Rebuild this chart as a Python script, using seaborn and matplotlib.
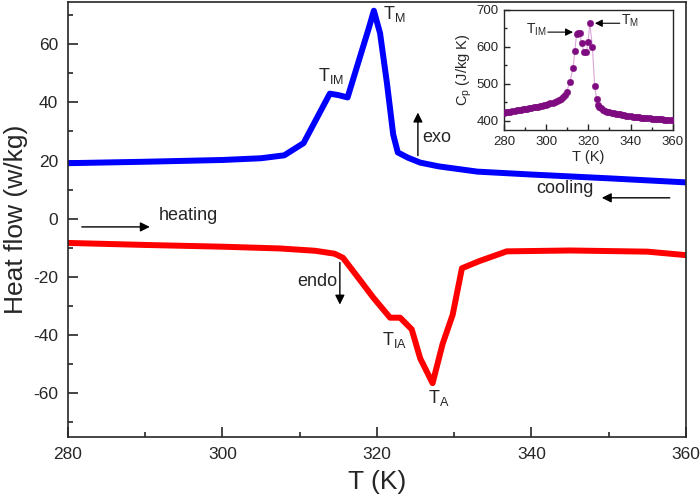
import matplotlib
matplotlib.use("Agg")
import matplotlib.pyplot as plt
from matplotlib.ticker import MultipleLocator
import seaborn as sns
import pandas as pd

# ---------------- data ----------------
T_cool = [280, 290, 300, 305, 308, 310.5, 312, 313.9, 315, 316.2, 317.5, 319.0,
          319.6, 320.4, 321.3, 322.1, 322.7, 324, 325.6, 328, 333, 340, 350, 360]
HF_cool = [19.1, 19.6, 20.2, 20.8, 21.8, 26, 33.5, 43, 42.5, 41.7, 53, 66,
           71.5, 63.8, 46.5, 29, 22.8, 21, 19.3, 18, 16.2, 15.2, 13.9, 12.5]

T_heat = [280, 290, 300, 307.4, 312, 314.5, 315.6, 317.5, 319.5, 321.7, 323, 324.5,
          325.6, 327.2, 328.5, 329.8, 331, 333.3, 336.8, 345, 355, 360]
HF_heat = [-8.3, -9.0, -9.6, -10.2, -11, -12, -13.4, -20, -27, -34, -34, -38,
           -48, -56.5, -43, -33, -17, -14.5, -11.2, -10.9, -11.3, -12.5]

T_cp = [280, 281, 282, 283, 284, 285, 286, 287, 288, 289, 290, 291, 292, 293, 294,
        295, 296, 297, 298, 299, 300, 301, 302, 303, 304, 305, 306, 307, 308, 309,
        309.7, 311.2, 312.8, 313.6, 314.4, 315.2, 316.0, 316.8, 317.9, 319.0, 319.9,
        320.7, 321.9, 323.0, 323.9, 324.6, 325, 326, 327, 328, 329, 330, 331, 332,
        333, 334, 335, 336, 337, 338, 339, 340, 341, 342, 343, 344, 345, 346, 347,
        348, 349, 350, 351, 352, 353, 354, 355, 356, 357, 358, 359, 360]
Cp = [422, 423, 424, 425, 426, 427, 428, 429, 430, 431, 432, 433, 434, 435, 436,
      437, 438, 439, 440, 441.5, 443, 445, 447, 449, 451, 454, 457, 460, 465, 471,
      479, 504, 544, 590, 634, 638, 637, 610, 585, 586, 613,
      665, 601, 495, 459, 443, 438, 434, 430, 427, 425, 423, 422, 420.5,
      419.5, 418.5, 417, 416, 415, 414, 413, 412, 411, 410.5, 410, 409, 408.5, 408, 407.5,
      407, 406.5, 406, 405.5, 405, 404.5, 404, 403.5, 403, 402.5, 402, 401.5, 401]

xticks_main = [280, 300, 320, 340, 360]
yticks_main = [-60, -40, -20, 0, 20, 40, 60]
xticks_inset = [280, 300, 320, 340, 360]
yticks_inset = [400, 500, 600, 700]

df_cool = pd.DataFrame({"T": T_cool, "HF": HF_cool})
df_heat = pd.DataFrame({"T": T_heat, "HF": HF_heat})
df_cp = pd.DataFrame({"T": T_cp, "Cp": Cp})

# ---------------- style ----------------
sns.set_style("ticks")
plt.rcParams["font.family"] = ["Liberation Sans", "DejaVu Sans"]
plt.rcParams["mathtext.fontset"] = "custom"
plt.rcParams["mathtext.rm"] = "Liberation Sans"
plt.rcParams["mathtext.it"] = "Liberation Sans"
plt.rcParams["axes.unicode_minus"] = False

fig = plt.figure(figsize=(7.0, 4.98), dpi=100)
ax = fig.add_axes([0.097, 0.1225, 0.883, 0.8735])

sns.lineplot(data=df_cool, x="T", y="HF", ax=ax, color="#0000FF", lw=4.3,
             sort=False, estimator=None, solid_joinstyle="round")
sns.lineplot(data=df_heat, x="T", y="HF", ax=ax, color="#FF0000", lw=4.3,
             sort=False, estimator=None, solid_joinstyle="round")

ax.set_xlim(280, 360)
ax.set_ylim(-75, 74.5)
ax.set_xticks(xticks_main)
ax.set_yticks(yticks_main)
ax.xaxis.set_minor_locator(MultipleLocator(10))
ax.yaxis.set_minor_locator(MultipleLocator(10))
ax.tick_params(which="major", direction="in", length=7, width=1.2, labelsize=12.5,
               top=False, right=False, pad=7)
ax.tick_params(which="minor", direction="in", length=3.5, width=1.2,
               top=False, right=False)
for s in ax.spines.values():
    s.set_linewidth(1.2)
ax.set_xlabel("T (K)", fontsize=19, labelpad=6)
ax.set_ylabel("Heat flow (w/kg)", fontsize=19, labelpad=4)

arrow = dict(arrowstyle="-|>", lw=1.0, color="black", mutation_scale=14,
             shrinkA=0, shrinkB=0)
# annotations
ax.text(320.8, 73.8, r"T$_\mathrm{M}$", fontsize=13, ha="left", va="top")
ax.text(312.4, 52.5, r"T$_\mathrm{IM}$", fontsize=13, ha="left", va="top")
ax.text(320.6, -38.2, r"T$_\mathrm{IA}$", fontsize=13, ha="left", va="top")
ax.text(326.6, -58.0, r"T$_\mathrm{A}$", fontsize=13, ha="left", va="top")

ax.annotate("", xy=(325.3, 36.5), xytext=(325.3, 21.7), arrowprops=arrow)
ax.text(325.8, 28, "exo", fontsize=13, ha="left", va="center")
ax.annotate("", xy=(315.2, -29.5), xytext=(315.2, -15), arrowprops=arrow)
ax.text(314.9, -21.4, "endo", fontsize=13, ha="right", va="center")
ax.annotate("", xy=(290.6, -2.8), xytext=(281.8, -2.8), arrowprops=arrow)
ax.text(291.7, 1.0, "heating", fontsize=13, ha="left", va="center")
ax.annotate("", xy=(349.1, 7.2), xytext=(357.9, 7.2), arrowprops=arrow)
ax.text(340.6, 10.3, "cooling", fontsize=13, ha="left", va="center")

# ---------------- inset ----------------
ins = fig.add_axes([0.72, 0.739, 0.241, 0.241])
sns.lineplot(data=df_cp, x="T", y="Cp", ax=ins, color="#D9A6D9", lw=0.8,
             sort=False, estimator=None)
sns.scatterplot(data=df_cp, x="T", y="Cp", ax=ins, color="#7E0C80", s=22,
                edgecolor="#7E0C80", linewidth=0.3, zorder=3)
ins.set_xlim(280, 360)
ins.set_ylim(375, 700)
ins.set_xticks(xticks_inset)
ins.set_yticks(yticks_inset)
ins.xaxis.set_minor_locator(MultipleLocator(10))
ins.yaxis.set_minor_locator(MultipleLocator(50))
ins.tick_params(which="major", direction="in", length=4, width=1.0, labelsize=9.5,
                top=False, right=False, pad=4)
ins.tick_params(which="minor", direction="in", length=2, width=1.0,
                top=False, right=False)
for s in ins.spines.values():
    s.set_linewidth(1.0)
ins.set_xlabel("T (K)", fontsize=10.5, labelpad=2)
ins.set_ylabel(r"C$_\mathrm{p}$ (J/kg K)", fontsize=10.5, labelpad=2)

arrow_s = dict(arrowstyle="-|>", lw=0.8, color="black", mutation_scale=11,
               shrinkA=0, shrinkB=0)
ins.annotate("", xy=(312.7, 640), xytext=(300.8, 640), arrowprops=arrow_s)
ins.text(290.5, 646, r"T$_\mathrm{IM}$", fontsize=10, ha="left", va="center")
ins.annotate("", xy=(323.1, 664), xytext=(334.9, 664), arrowprops=arrow_s)
ins.text(335.3, 670, r"T$_\mathrm{M}$", fontsize=10, ha="left", va="center")

fig.savefig("out.png", dpi=100)
